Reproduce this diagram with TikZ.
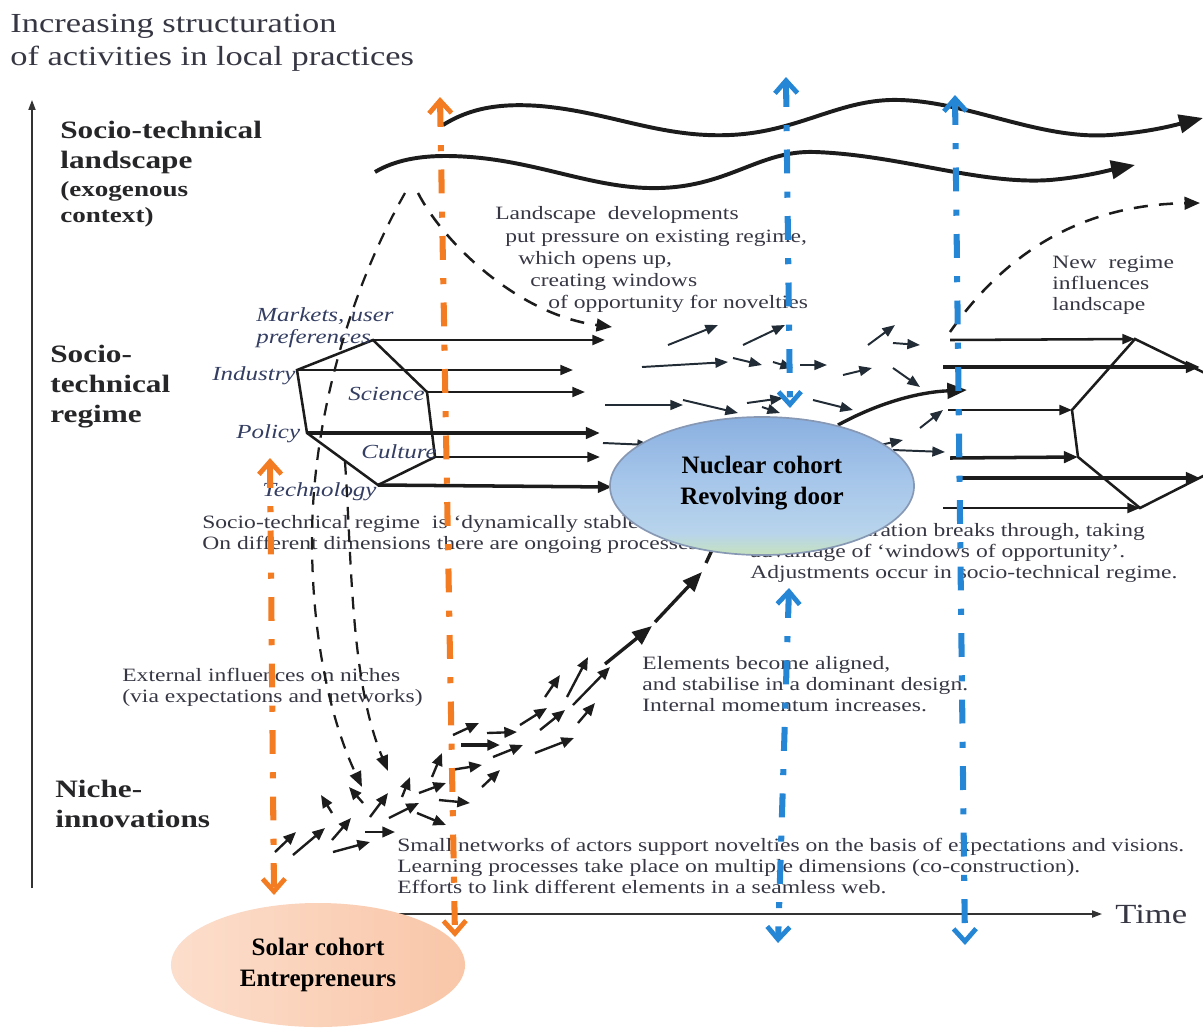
\documentclass[tikz,border=0pt]{standalone}
\usepackage{fontspec}
\setmainfont{Liberation Serif}
\usetikzlibrary{arrows.meta,shapes.geometric}
\definecolor{txtc}{RGB}{55,55,68}
\definecolor{lblc}{RGB}{38,38,40}
\definecolor{itc}{RGB}{52,62,98}
\definecolor{ink}{RGB}{28,28,28}
\definecolor{slate}{RGB}{34,44,54}
\definecolor{orng}{RGB}{243,124,34}
\definecolor{blu}{RGB}{38,134,214}
\definecolor{nucTop}{RGB}{138,176,224}
\definecolor{nucMid}{RGB}{166,198,234}
\definecolor{nucLow}{RGB}{184,212,236}
\definecolor{nucBot}{RGB}{198,226,190}
\definecolor{nucEdge}{RGB}{135,152,180}
\definecolor{solL}{RGB}{252,222,204}
\definecolor{solR}{RGB}{249,198,168}
\pgfdeclareverticalshading{nucshade}{100bp}{color(0bp)=(nucBot); color(25bp)=(nucBot);
  color(33bp)=(nucLow); color(52bp)=(nucMid); color(75bp)=(nucTop); color(100bp)=(nucTop)}
\newcommand\txtlines[1]{\begin{tabular}[t]{@{}l@{}}#1\end{tabular}}

\begin{document}
\begin{tikzpicture}[x=0.025cm,y=-0.025cm,
  txt/.style={anchor=base west,inner sep=0pt,xscale=1.25,text=txtc,font=\fontsize{13.4}{15.2}\selectfont},
  ttl/.style={txt,font=\fontsize{19.6}{23.5}\selectfont},
  lvl/.style={anchor=base west,inner sep=0pt,xscale=1.25,text=lblc,font=\fontsize{17.8}{21.6}\bfseries},
  lvlsm/.style={lvl,font=\fontsize{15.4}{18.5}\bfseries},
  dim/.style={anchor=base west,inner sep=0pt,xscale=1.25,text=itc,font=\fontsize{14.2}{16}\itshape},
  cohort/.style={ellipse,inner sep=0pt,align=center,text=black,font=\fontsize{17.8}{22}\bfseries},
  hexline/.style={draw=ink,line width=1.8pt,line join=miter},
  ra/.style={draw=ink,line width=1.8pt,-{Triangle[length=9pt,width=7pt]}},
  rathick/.style={draw=ink,line width=2.5pt,-{Triangle[length=10pt,width=8pt]}},
  sa/.style={draw=ink,line width=1.7pt,-{Triangle[length=9pt,width=7.5pt]}},
  ma/.style={draw=slate,line width=1.4pt,-{Triangle[length=9pt,width=7pt]}},
  big/.style={draw=ink,line width=2.4pt,-{Triangle[length=14pt,width=11pt]}},
  wave/.style={draw=ink,line width=2.8pt,-{Triangle[length=17pt,width=13pt]}},
  dsh/.style={draw=ink,line width=1.8pt,dash pattern=on 10pt off 8pt,-{Triangle[length=11pt,width=9pt]}},
  dshthin/.style={draw=ink,line width=1.6pt,dash pattern=on 9pt off 7pt,-{Triangle[length=11pt,width=8.5pt]}},
  axis/.style={draw=black!80,line width=1.1pt,-{Triangle[length=7pt,width=5pt]}},
  marker/.style={line width=4.3pt,dash pattern=on 17pt off 13pt on 4.3pt off 13pt,
     {Straight Barb[length=9pt,width=16pt,line width=3.4pt]}-{Straight Barb[length=9pt,width=16pt,line width=3.4pt]}}
]
\useasboundingbox (0,0) rectangle (1203,1028);
\clip (0,0) rectangle (1203,1028);

% ---------- axes ----------
\coordinate (yaxB) at (32,888);
\coordinate (yaxT) at (32,100);
\coordinate (xaxL) at (398,914);
\coordinate (xaxR) at (1102,914);
\draw[axis] (yaxB) -- (yaxT);
\draw[axis] (xaxL) -- (xaxR);

% ---------- titles and level labels ----------
\node[ttl] (title) at (10,32) {\txtlines{Increasing structuration\\of activities in local practices}};
\node[lvl,font=\fontsize{17.8}{22}\bfseries] (landA) at (60,138) {\txtlines{Socio-technical\\landscape}};
\node[lvlsm] (landB) at (60,196) {\txtlines{(exogenous\\context)}};
\node[lvl] (regl) at (50,362) {\txtlines{Socio-\\technical\\regime}};
\node[lvl] (nichl) at (55,797) {\txtlines{Niche-\\innovations}};
\node[txt,font=\fontsize{19.7}{22}\selectfont] (time) at (1115,923) {Time};

% ---------- explanatory texts ----------
\node[txt] (ld1) at (495,219) {Landscape\ \ developments};
\node[txt] (ld2) at (505,242) {put pressure on existing regime,};
\node[txt] (ld3) at (518,264) {which opens up,};
\node[txt] (ld4) at (530,286) {creating windows};
\node[txt] (ld5) at (548,308) {of opportunity for novelties};
\node[txt] (nr) at (1052,268) {\txtlines{New\ \ regime\\influences\\landscape}};
\node[txt] (stab) at (202,528) {\txtlines{Socio-technical regime\ \ is ‘dynamically stable’.\\On different dimensions there are ongoing processes.}};
\node[txt] (brk) at (750,536) {\txtlines{New configuration breaks through, taking\\advantage of ‘windows of opportunity’.\\Adjustments occur in socio-technical regime.}};
\node[txt] (ext) at (122,681) {\txtlines{External influences on niches\\(via expectations and networks)}};
\node[txt] (elem) at (642,669) {\txtlines{Elements become aligned,\\and stabilise in a dominant design.\\Internal momentum increases.}};
\node[txt] (small) at (397,851) {\txtlines{Small networks of actors support novelties on the basis of expectations and visions.\\Learning processes take place on multiple dimensions (co-construction).\\Efforts to link different elements in a seamless web.}};

% ---------- regime dimensions (left hexagon) ----------
\coordinate (hM) at (373,340);
\coordinate (hS) at (427,392);
\coordinate (hC) at (435,457);
\coordinate (hT) at (378,485);
\coordinate (hP) at (307,433);
\coordinate (hI) at (297,370);
\draw[hexline] (hM) -- (hS) -- (hC) -- (hT) -- (hP) -- (hI) -- cycle;
\node[dim] (mk) at (256,321) {\txtlines{Markets, user\\preferences}};
\node[dim] (ind) at (212,380) {Industry};
\node[dim] (sci) at (348,400) {Science};
\node[dim] (pol) at (236,438) {Policy};
\node[dim] (cul) at (361,458) {Culture};
\node[dim] (tec) at (262,496) {Technology};

\coordinate (eM) at (605,340);
\coordinate (eI) at (573,370);
\coordinate (eS) at (585,392);
\coordinate (eP) at (600,433);
\coordinate (eC) at (600,457);
\coordinate (eT) at (612,487);
\draw[ra] (hM) -- (eM);
\draw[ra,line width=1.6pt] (hI) -- (eI);
\draw[ra,line width=1.6pt] (hS) -- (eS);
\draw[rathick] (hP) -- (eP);
\draw[ra] (hC) -- (eC);
\draw[rathick] (hT) -- (eT);

% ---------- new regime (right hexagon) ----------
\coordinate (qA) at (1135,339);
\coordinate (qB) at (1215,378);
\coordinate (qC) at (1215,470);
\coordinate (qD) at (1140,508);
\coordinate (qE) at (1078,457);
\coordinate (qF) at (1072,410);
\draw[hexline] (qA) -- (qB) -- (qC) -- (qD) -- (qE) -- (qF) -- cycle;
\coordinate (rA) at (950,340);
\coordinate (rB) at (943,367);
\coordinate (rBe) at (1200,367);
\coordinate (rF) at (948,410);
\coordinate (rE) at (950,458);
\coordinate (rC) at (958,478);
\coordinate (rCe) at (1200,478);
\coordinate (rD) at (943,508);
\draw[ra] (rA) -- (qA);
\draw[rathick] (rB) -- (rBe);
\draw[ra] (rF) -- (qF);
\draw[rathick] (rE) -- (qE);
\draw[rathick] (rC) -- (rCe);
\draw[ra] (rD) -- (qD);

% ---------- landscape waves ----------
\draw[wave] (443,125) .. controls (470,108) and (500,103) .. (540,106)
  .. controls (610,112) and (660,138) .. (730,135)
  .. controls (800,132) and (840,98) .. (900,100)
  .. controls (970,102) and (1040,140) .. (1110,135)
  .. controls (1150,132) and (1175,125) .. (1203,118);
\draw[wave] (375,172) .. controls (395,160) and (420,156) .. (445,156)
  .. controls (530,156) and (590,190) .. (660,188)
  .. controls (730,186) and (760,150) .. (815,152)
  .. controls (900,155) and (980,185) .. (1050,180)
  .. controls (1085,177) and (1110,170) .. (1135,165);

% ---------- dashed influences ----------
\draw[dsh] (418,193) .. controls (445,245) and (520,315) .. (612,327);
\draw[dshthin] (405,193) .. controls (350,290) and (312,420) .. (312,540)
  .. controls (312,650) and (335,730) .. (362,787);
\draw[dshthin] (345,462) .. controls (352,560) and (350,680) .. (388,771);
\draw[dsh] (950,332) .. controls (990,275) and (1060,205) .. (1200,203);

% ---------- regime dynamics (middle arrows) ----------
\foreach \ax/\ay/\bx/\by in {
  668/345/718/325, 743/345/785/325, 642/367/728/362, 733/358/762/365,
  773/362/793/368, 800/365/827/365, 843/375/872/368, 868/345/895/325,
  893/343/920/345, 893/368/920/387, 605/405/683/405, 683/400/738/413,
  747/403/783/398, 762/407/780/413, 813/400/853/410, 603/443/650/445,
  920/428/943/410, 880/445/903/440, 893/450/945/452}
  \draw[ma] (\ax,\ay) -- (\bx,\by);
\draw[big] (838,425) .. controls (880,402) and (920,392) .. (967,390);

% ---------- niche dynamics ----------
\foreach \ax/\ay/\bx/\by in {
  275/852/296/832, 293/855/325/828, 332/840/351/818, 333/852/370/842,
  365/832/395/832, 370/817/388/793, 389/818/419/803, 417/813/446/825,
  332/813/321/795, 363/803/349/787, 402/797/410/777, 419/793/446/783,
  432/777/442/753, 439/800/470/803, 451/770/482/765, 482/787/500/770,
  453/735/479/723, 487/733/517/732, 493/757/523/745, 535/753/574/738,
  520/725/547/708, 540/730/565/710, 545/697/560/675, 567/697/588/657,
  573/705/610/667, 578/723/595/703}
  \draw[sa] (\ax,\ay) -- (\bx,\by);
\draw[sa,line width=2.6pt] (461,745) -- (500,745);
\draw[big] (605,664) -- (652,626);
\draw[big] (655,622) -- (702,572);
\draw[draw=ink,line width=2.4pt] (706,563) -- (712,550);

% ---------- cohorts ----------
\node[cohort,shading=nucshade,draw=nucEdge,line width=1.2pt,
  minimum width=7.6cm,minimum height=3.45cm] (nuc) at (762,486) {};
\node[cohort,fill=none] (nuctext) at (762,483) {Nuclear cohort\\Revolving door};
\node[cohort,left color=solL,right color=solR,minimum width=7.35cm,minimum height=3.1cm]
  (sol) at (318,965) {Solar cohort\\Entrepreneurs};

% ---------- cohort markers ----------
\coordinate (oA1) at (270,458);
\coordinate (oA2) at (274,895);
\coordinate (oB1) at (440,97);
\coordinate (oB2) at (455,937);
\coordinate (bA1) at (786,77);
\coordinate (bA2) at (790,408);
\coordinate (bA3) at (789,588);
\coordinate (bA4) at (778,943);
\coordinate (bB1) at (955,95);
\coordinate (bB2) at (965,945);
\draw[marker,draw=orng] (oA1) -- (oA2);
\draw[marker,draw=orng] (oB1) -- (oB2);
\draw[marker,draw=blu] (bA1) -- (bA2);
\draw[marker,draw=blu] (bA3) -- (bA4);
\draw[marker,draw=blu] (bB1) -- (bB2);
\end{tikzpicture}
\end{document}
